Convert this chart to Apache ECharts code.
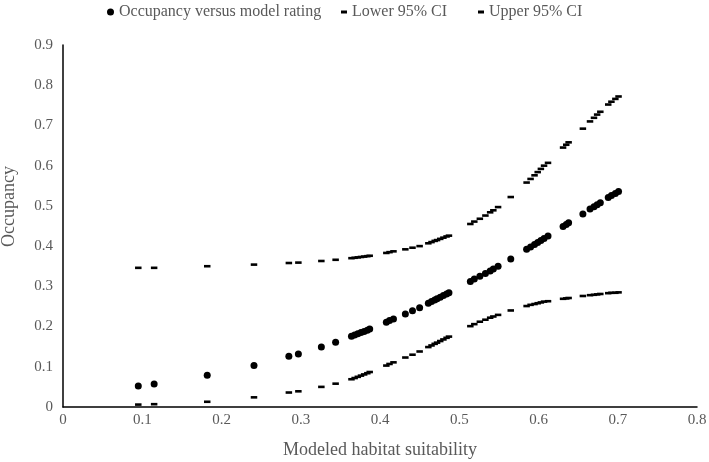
<!DOCTYPE html>
<html><head><meta charset="utf-8">
<script src="https://cdn.jsdelivr.net/npm/echarts@6/dist/echarts.min.js"></script>
<style>html,body{margin:0;padding:0;background:#fff}#c{width:709px;height:462px}</style>
</head><body><div id="c"></div>
<script>
var suitability = [0.095,0.115,0.182,0.241,0.285,0.297,0.326,0.344,0.364,0.368,0.372,0.376,0.380,0.384,0.387,0.408,0.412,0.417,0.432,0.441,0.450,0.461,0.465,0.469,0.472,0.476,0.480,0.484,0.487,0.514,0.519,0.526,0.533,0.539,0.543,0.549,0.565,0.585,0.590,0.595,0.599,0.603,0.607,0.612,0.631,0.635,0.638,0.656,0.665,0.670,0.674,0.678,0.688,0.692,0.697,0.701];
var occupancy = [0.052,0.057,0.079,0.103,0.126,0.132,0.149,0.161,0.176,0.179,0.182,0.185,0.188,0.191,0.194,0.211,0.215,0.219,0.231,0.239,0.247,0.258,0.262,0.266,0.269,0.273,0.277,0.281,0.284,0.312,0.318,0.325,0.332,0.338,0.343,0.350,0.368,0.392,0.398,0.404,0.409,0.414,0.419,0.425,0.449,0.454,0.458,0.480,0.492,0.498,0.503,0.508,0.521,0.526,0.531,0.536];
var upperCI = [0.346,0.346,0.350,0.354,0.358,0.359,0.363,0.366,0.370,0.371,0.372,0.373,0.374,0.375,0.376,0.383,0.385,0.387,0.392,0.396,0.400,0.407,0.410,0.413,0.415,0.418,0.421,0.424,0.426,0.455,0.461,0.468,0.476,0.484,0.489,0.497,0.522,0.558,0.567,0.576,0.584,0.592,0.600,0.607,0.645,0.652,0.658,0.692,0.710,0.719,0.727,0.734,0.752,0.759,0.766,0.772];
var lowerCI = [0.006,0.007,0.013,0.024,0.036,0.039,0.050,0.058,0.069,0.072,0.075,0.078,0.081,0.084,0.087,0.103,0.107,0.111,0.123,0.130,0.138,0.149,0.153,0.157,0.160,0.164,0.168,0.172,0.175,0.201,0.206,0.212,0.217,0.222,0.225,0.229,0.240,0.251,0.254,0.256,0.258,0.260,0.262,0.263,0.269,0.270,0.271,0.276,0.278,0.279,0.280,0.281,0.283,0.284,0.284,0.285];
var xTicks = [0,0.1,0.2,0.3,0.4,0.5,0.6,0.7,0.8];
var yTicks = [0,0.1,0.2,0.3,0.4,0.5,0.6,0.7,0.8,0.9];
var seriesNames = ['Occupancy versus model rating', 'Lower 95% CI', 'Upper 95% CI'];

function pairs(ys){ return suitability.map(function(x,i){ return [x, ys[i]]; }); }
function tickFmt(list){ return function(v){ var t = list.filter(function(k){return Math.abs(k-v)<1e-9;}); return t.length? String(t[0]) : ''; }; }

var font = 'Liberation Serif';
var grey = '#595959';
function legendAt(left, name, icon, w, h){
  return {
    top: 4, left: left, padding: 0, itemGap: 0, itemWidth: w, itemHeight: h,
    textStyle: {fontFamily: font, fontSize: 16, color: grey},
    data: [{name: name, icon: icon}]
  };
}
var chart = echarts.init(document.getElementById('c'));
chart.setOption({
  animation: false,
  textStyle: {fontFamily: font},
  legend: [
    legendAt(107, seriesNames[0], 'circle', 7, 7),
    legendAt(341, seriesNames[1], 'rect', 6, 3),
    legendAt(478, seriesNames[2], 'rect', 6, 3)
  ],
  grid: {left: 63, right: 12, top: 45, bottom: 55, containLabel: false, outerBoundsMode: 'none'},
  xAxis: {
    type: 'value', min: 0, max: 0.8, interval: 0.1,
    name: 'Modeled habitat suitability', nameLocation: 'middle', nameGap: 34,
    nameTextStyle: {fontFamily: font, fontSize: 18, color: grey},
    axisLine: {show: true, lineStyle: {color: '#000', width: 1.5}},
    axisTick: {show: false},
    splitLine: {show: false},
    axisLabel: {fontFamily: font, fontSize: 15, color: grey, margin: 6, formatter: tickFmt(xTicks)}
  },
  yAxis: {
    type: 'value', min: 0, max: 0.9, interval: 0.1,
    name: 'Occupancy', nameLocation: 'middle', nameGap: 45,
    nameTextStyle: {fontFamily: font, fontSize: 18, color: grey, padding: [0, 0, 0, 39]},
    axisLine: {show: true, lineStyle: {color: '#000', width: 1.5}},
    axisTick: {show: false},
    splitLine: {show: false},
    axisLabel: {fontFamily: font, fontSize: 15, color: grey, margin: 10, formatter: tickFmt(yTicks)}
  },
  series: [
    {name: seriesNames[0], type: 'scatter', symbol: 'circle', symbolSize: 7,
     itemStyle: {color: '#000', opacity: 1}, data: pairs(occupancy)},
    {name: seriesNames[1], type: 'scatter', symbol: 'rect', symbolSize: [6.5, 2.6],
     itemStyle: {color: '#000', opacity: 1}, data: pairs(lowerCI)},
    {name: seriesNames[2], type: 'scatter', symbol: 'rect', symbolSize: [6.5, 2.6],
     itemStyle: {color: '#000', opacity: 1}, data: pairs(upperCI)}
  ]
});
</script>
</body></html>
